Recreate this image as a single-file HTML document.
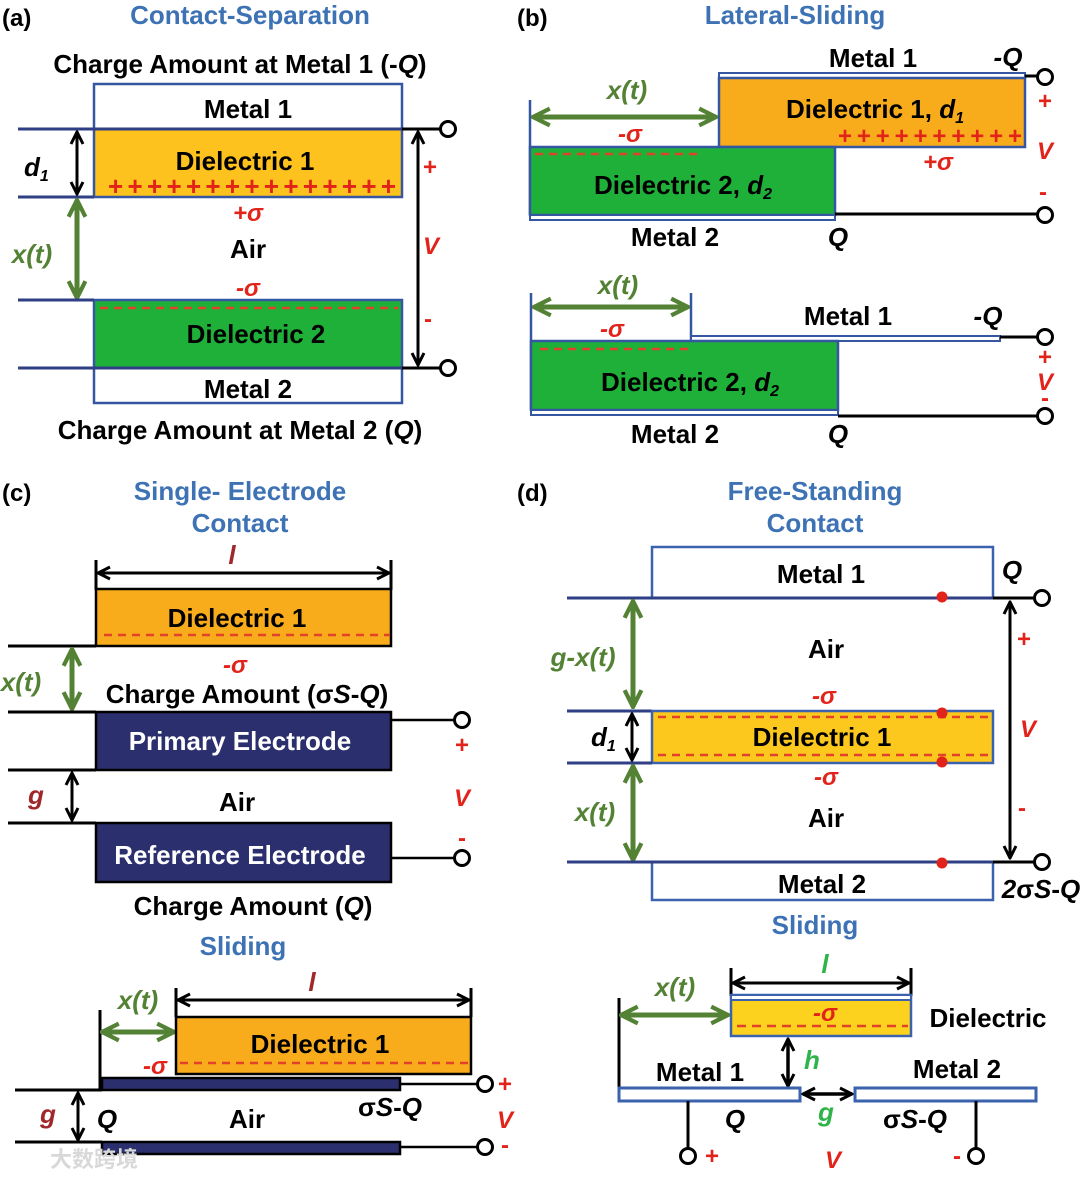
<!DOCTYPE html>
<html><head><meta charset="utf-8"><style>
html,body{margin:0;padding:0;background:#fff;}
svg{display:block;}
text{font-family:"Liberation Sans",Arial,sans-serif;font-weight:bold;}
.t{font-size:26px;fill:#000;text-anchor:middle;}
.h{font-size:26px;fill:#3d72b4;text-anchor:middle;}
.r{fill:#e2231a;text-anchor:middle;font-size:24px;}
.g{fill:#548235;font-style:italic;font-size:26px;text-anchor:middle;}
.i{font-style:italic;}
.w{fill:#fff;}
</style></head><body>
<svg width="1080" height="1177" viewBox="0 0 1080 1177" xmlns="http://www.w3.org/2000/svg">
<defs>
<marker id="ab" viewBox="0 0 10 10" refX="9" refY="5" markerWidth="15" markerHeight="15" markerUnits="userSpaceOnUse" orient="auto-start-reverse"><path d="M1,1 L9,5 L1,9" fill="none" stroke="#000" stroke-width="2"/></marker>
<marker id="ag" viewBox="0 0 10 10" refX="9" refY="5" markerWidth="21" markerHeight="21" markerUnits="userSpaceOnUse" orient="auto-start-reverse"><path d="M1,1 L9,5 L1,9" fill="none" stroke="#548235" stroke-width="2"/></marker>
</defs>

<!-- ===== (a) ===== -->
<text x="2" y="26" font-size="24">(a)</text>
<text class="h" x="250" y="24">Contact-Separation</text>
<text class="t" x="240" y="73">Charge Amount at Metal 1 (-<tspan class="i">Q</tspan>)</text>
<rect x="94" y="84" width="308" height="45" fill="#fff" stroke="#3556a0" stroke-width="2.5"/>
<text class="t" x="248" y="118">Metal 1</text>
<rect x="94" y="129" width="308" height="68" fill="#fdc21e" stroke="#3556a0" stroke-width="2.5"/>
<text class="t" x="245" y="170">Dielectric 1</text>
<text x="108" y="195" font-size="26" fill="#e2231a" font-weight="normal" textLength="288" lengthAdjust="spacing">+++++++++++++++</text>
<line x1="18" y1="129" x2="402" y2="129" stroke="#2e3f85" stroke-width="3"/>
<line x1="402" y1="129" x2="440" y2="129" stroke="#000" stroke-width="3"/>
<circle cx="448" cy="129" r="7.5" fill="#fff" stroke="#000" stroke-width="3"/>
<line x1="18" y1="197" x2="94" y2="197" stroke="#2e3f85" stroke-width="3"/>
<line x1="77" y1="132" x2="77" y2="194" stroke="#000" stroke-width="3" marker-start="url(#ab)" marker-end="url(#ab)"/>
<text x="24" y="176" font-size="26" class="i">d<tspan font-size="16" dy="5">1</tspan></text>
<line x1="77" y1="200" x2="77" y2="298" stroke="#548235" stroke-width="5" marker-start="url(#ag)" marker-end="url(#ag)"/>
<text class="g" x="32" y="263">x(t)</text>
<text class="r i" x="248" y="221">+σ</text>
<text class="t" x="248" y="258">Air</text>
<text class="r i" x="248" y="296">-σ</text>
<rect x="94" y="300" width="308" height="68" fill="#1fb03a" stroke="#3556a0" stroke-width="2.5"/>
<line x1="100" y1="308" x2="398" y2="308" stroke="#e2412a" stroke-width="2.5" stroke-dasharray="8,6"/>
<text class="t" x="256" y="343">Dielectric 2</text>
<line x1="18" y1="300" x2="94" y2="300" stroke="#2e3f85" stroke-width="3"/>
<rect x="94" y="368" width="308" height="35" fill="#fff" stroke="#3556a0" stroke-width="2.5"/>
<line x1="18" y1="368" x2="402" y2="368" stroke="#2e3f85" stroke-width="3"/>
<line x1="402" y1="368" x2="440" y2="368" stroke="#000" stroke-width="3"/>
<circle cx="448" cy="368" r="7.5" fill="#fff" stroke="#000" stroke-width="3"/>
<text class="t" x="248" y="398">Metal 2</text>
<text class="t" x="240" y="439">Charge Amount at Metal 2 (<tspan class="i">Q</tspan>)</text>
<line x1="418" y1="132" x2="418" y2="365" stroke="#000" stroke-width="3" marker-start="url(#ab)" marker-end="url(#ab)"/>
<text class="r" x="430" y="175" font-weight="normal">+</text>
<text class="r i" x="431" y="254" font-size="28">V</text>
<text class="r" x="428" y="327" font-weight="normal">-</text>

<!-- ===== (b) ===== -->
<text x="517" y="26" font-size="24">(b)</text>
<text class="h" x="795" y="24">Lateral-Sliding</text>
<text class="t" x="873" y="67">Metal 1</text>
<text class="t i" x="1008" y="66">-Q</text>
<rect x="719" y="73" width="306" height="5" fill="#fff" stroke="#3556a0" stroke-width="2"/>
<rect x="719" y="78" width="306" height="69" fill="#f8ac1c" stroke="#3556a0" stroke-width="2.5"/>
<text class="t" x="875" y="118">Dielectric 1, <tspan class="i">d</tspan><tspan font-size="16" dy="5" class="i">1</tspan></text>
<text x="838" y="144" font-size="24" fill="#e2231a" font-weight="normal" textLength="184" lengthAdjust="spacing">++++++++++</text>
<line x1="1025" y1="76" x2="1037" y2="76" stroke="#000" stroke-width="3"/>
<circle cx="1045" cy="77" r="7.5" fill="#fff" stroke="#000" stroke-width="3"/>
<text class="r" x="1045" y="109" font-weight="normal">+</text>
<text class="r i" x="1045" y="159" font-size="28">V</text>
<text class="r" x="1043" y="200" font-weight="normal">-</text>
<line x1="530" y1="100" x2="530" y2="215" stroke="#3556a0" stroke-width="2.5"/>
<line x1="533" y1="117" x2="716" y2="117" stroke="#548235" stroke-width="5" marker-start="url(#ag)" marker-end="url(#ag)"/>
<text class="g" x="627" y="99">x(t)</text>
<text class="r i" x="630" y="142">-σ</text>
<rect x="530" y="147" width="305" height="68" fill="#1fb03a" stroke="#3556a0" stroke-width="2.5"/>
<line x1="535" y1="154" x2="700" y2="154" stroke="#e2412a" stroke-width="2.5" stroke-dasharray="8,6"/>
<text class="t" x="683" y="194">Dielectric 2, <tspan class="i">d</tspan><tspan font-size="16" dy="5" class="i">2</tspan></text>
<rect x="530" y="215" width="305" height="5" fill="#fff" stroke="#3556a0" stroke-width="2"/>
<line x1="835" y1="214" x2="1037" y2="214" stroke="#000" stroke-width="3"/>
<circle cx="1045" cy="215" r="7.5" fill="#fff" stroke="#000" stroke-width="3"/>
<text class="t" x="675" y="246">Metal 2</text>
<text class="t i" x="838" y="246">Q</text>
<text class="r i" x="938" y="170">+σ</text>

<text class="g" x="618" y="294">x(t)</text>
<line x1="531" y1="293" x2="531" y2="410" stroke="#3556a0" stroke-width="2.5"/>
<line x1="691" y1="293" x2="691" y2="340" stroke="#3556a0" stroke-width="2.5"/>
<line x1="534" y1="307" x2="688" y2="307" stroke="#548235" stroke-width="5" marker-start="url(#ag)" marker-end="url(#ag)"/>
<text class="r i" x="612" y="337">-σ</text>
<text class="t" x="848" y="325">Metal 1</text>
<text class="t i" x="988" y="325">-Q</text>
<rect x="691" y="336" width="309" height="5" fill="#fff" stroke="#3556a0" stroke-width="2"/>
<line x1="1000" y1="337" x2="1037" y2="337" stroke="#000" stroke-width="3"/>
<circle cx="1045" cy="337" r="7.5" fill="#fff" stroke="#000" stroke-width="3"/>
<rect x="531" y="341" width="307" height="69" fill="#1fb03a" stroke="#3556a0" stroke-width="2.5"/>
<line x1="540" y1="349" x2="690" y2="349" stroke="#e2412a" stroke-width="2.5" stroke-dasharray="8,6"/>
<text class="t" x="690" y="391">Dielectric 2, <tspan class="i">d</tspan><tspan font-size="16" dy="5" class="i">2</tspan></text>
<rect x="531" y="410" width="307" height="5" fill="#fff" stroke="#3556a0" stroke-width="2"/>
<line x1="838" y1="416" x2="1037" y2="416" stroke="#000" stroke-width="3"/>
<circle cx="1045" cy="416" r="7.5" fill="#fff" stroke="#000" stroke-width="3"/>
<text class="r" x="1045" y="365" font-weight="normal">+</text>
<text class="r i" x="1045" y="390" font-size="28">V</text>
<text class="r" x="1045" y="406" font-weight="normal">-</text>
<text class="t" x="675" y="443">Metal 2</text>
<text class="t i" x="838" y="443">Q</text>

<!-- ===== (c) ===== -->
<text x="2" y="501" font-size="24">(c)</text>
<text class="h" x="240" y="500">Single- Electrode</text>
<text class="h" x="240" y="532">Contact</text>
<line x1="96" y1="560" x2="96" y2="590" stroke="#000" stroke-width="3"/>
<line x1="391" y1="560" x2="391" y2="590" stroke="#000" stroke-width="3"/>
<line x1="98" y1="573" x2="389" y2="573" stroke="#000" stroke-width="3" marker-start="url(#ab)" marker-end="url(#ab)"/>
<text x="232" y="564" font-size="26" fill="#a0282a" class="i" text-anchor="middle">l</text>
<rect x="96" y="589" width="295" height="57" fill="#f8ac1c" stroke="#000" stroke-width="2.5"/>
<text class="t" x="237" y="627">Dielectric 1</text>
<line x1="104" y1="635" x2="390" y2="635" stroke="#e2412a" stroke-width="2.5" stroke-dasharray="8,6"/>
<line x1="8" y1="646" x2="96" y2="646" stroke="#000" stroke-width="3"/>
<line x1="72" y1="649" x2="72" y2="709" stroke="#548235" stroke-width="5" marker-start="url(#ag)" marker-end="url(#ag)"/>
<text class="g" x="21" y="691">x(t)</text>
<text class="r i" x="235" y="673">-σ</text>
<text class="t" x="247" y="703">Charge Amount (σ<tspan class="i">S</tspan>-<tspan class="i">Q</tspan>)</text>
<line x1="8" y1="712" x2="96" y2="712" stroke="#000" stroke-width="3"/>
<rect x="96" y="712" width="295" height="58" fill="#2b2f6e" stroke="#000" stroke-width="2.5"/>
<text class="t w" x="240" y="750">Primary Electrode</text>
<line x1="391" y1="720" x2="454" y2="720" stroke="#000" stroke-width="2.5"/>
<circle cx="462" cy="720" r="7.5" fill="#fff" stroke="#000" stroke-width="3"/>
<text class="r" x="462" y="753" font-weight="normal">+</text>
<line x1="8" y1="770" x2="96" y2="770" stroke="#000" stroke-width="3"/>
<line x1="72" y1="773" x2="72" y2="820" stroke="#000" stroke-width="3" marker-start="url(#ab)" marker-end="url(#ab)"/>
<text x="36" y="804" font-size="26" fill="#a0282a" class="i" text-anchor="middle">g</text>
<text class="t" x="237" y="811">Air</text>
<text class="r i" x="462" y="806" font-size="28">V</text>
<line x1="8" y1="823" x2="96" y2="823" stroke="#000" stroke-width="3"/>
<rect x="96" y="823" width="295" height="59" fill="#2b2f6e" stroke="#000" stroke-width="2.5"/>
<text class="t w" x="240" y="864">Reference Electrode</text>
<line x1="391" y1="858" x2="454" y2="858" stroke="#000" stroke-width="2.5"/>
<circle cx="462" cy="858" r="7.5" fill="#fff" stroke="#000" stroke-width="3"/>
<text class="r" x="462" y="846" font-weight="normal">-</text>
<text class="t" x="253" y="915">Charge Amount (<tspan class="i">Q</tspan>)</text>

<text class="h" x="243" y="955">Sliding</text>
<line x1="176" y1="988" x2="176" y2="1017" stroke="#000" stroke-width="3"/>
<line x1="471" y1="988" x2="471" y2="1017" stroke="#000" stroke-width="3"/>
<line x1="178" y1="1000" x2="469" y2="1000" stroke="#000" stroke-width="3" marker-start="url(#ab)" marker-end="url(#ab)"/>
<text x="312" y="991" font-size="26" fill="#a0282a" class="i" text-anchor="middle">l</text>
<text class="g" x="138" y="1009">x(t)</text>
<line x1="100" y1="1010" x2="100" y2="1090" stroke="#000" stroke-width="3"/>
<line x1="102" y1="1032" x2="174" y2="1032" stroke="#548235" stroke-width="5" marker-start="url(#ag)" marker-end="url(#ag)"/>
<rect x="176" y="1017" width="295" height="57" fill="#f8ac1c" stroke="#000" stroke-width="2.5"/>
<text class="t" x="320" y="1053">Dielectric 1</text>
<line x1="180" y1="1063" x2="468" y2="1063" stroke="#e2412a" stroke-width="2.5" stroke-dasharray="8,6"/>
<text class="r i" x="155" y="1074">-σ</text>
<rect x="102" y="1078" width="298" height="12" fill="#2b2f6e" stroke="#000" stroke-width="2.5"/>
<line x1="15" y1="1090" x2="102" y2="1090" stroke="#000" stroke-width="3"/>
<line x1="400" y1="1084" x2="477" y2="1084" stroke="#000" stroke-width="2.5"/>
<circle cx="485" cy="1084" r="7.5" fill="#fff" stroke="#000" stroke-width="3"/>
<text class="r" x="505" y="1092" font-weight="normal">+</text>
<line x1="78" y1="1093" x2="78" y2="1140" stroke="#000" stroke-width="3" marker-start="url(#ab)" marker-end="url(#ab)"/>
<text x="48" y="1123" font-size="26" fill="#a0282a" class="i" text-anchor="middle">g</text>
<text class="t i" x="107" y="1128">Q</text>
<text class="t" x="247" y="1128">Air</text>
<text class="t" x="390" y="1116">σ<tspan class="i">S</tspan>-<tspan class="i">Q</tspan></text>
<text class="r i" x="505" y="1128" font-size="28">V</text>
<line x1="15" y1="1142" x2="102" y2="1142" stroke="#000" stroke-width="3"/>
<rect x="102" y="1142" width="298" height="12" fill="#2b2f6e" stroke="#000" stroke-width="2.5"/>
<line x1="400" y1="1147" x2="477" y2="1147" stroke="#000" stroke-width="2.5"/>
<circle cx="485" cy="1147" r="7.5" fill="#fff" stroke="#000" stroke-width="3"/>
<text class="r" x="505" y="1153" font-weight="normal">-</text>
<text x="50" y="1167" font-size="22" fill="#d8d8d8" style='font-family:"Liberation Sans","Noto Sans CJK SC",sans-serif'>大数跨境</text>

<!-- ===== (d) ===== -->
<text x="517" y="501" font-size="24">(d)</text>
<text class="h" x="815" y="500">Free-Standing</text>
<text class="h" x="815" y="532">Contact</text>
<rect x="652" y="547" width="341" height="51" fill="#fff" stroke="#3a62ad" stroke-width="2.5"/>
<text class="t" x="821" y="583">Metal 1</text>
<text class="t i" x="1012" y="579">Q</text>
<line x1="567" y1="598" x2="993" y2="598" stroke="#2e3f85" stroke-width="3"/>
<circle cx="942" cy="597" r="5.5" fill="#e2231a"/>
<line x1="993" y1="598" x2="1034" y2="598" stroke="#000" stroke-width="3"/>
<circle cx="1042" cy="598" r="7.5" fill="#fff" stroke="#000" stroke-width="3"/>
<line x1="633" y1="601" x2="633" y2="707" stroke="#548235" stroke-width="5" marker-start="url(#ag)" marker-end="url(#ag)"/>
<text class="g" x="583" y="666">g-x(t)</text>
<text class="t" x="826" y="658">Air</text>
<text class="r i" x="824" y="704">-σ</text>
<line x1="567" y1="711" x2="652" y2="711" stroke="#2e3f85" stroke-width="3"/>
<rect x="652" y="711" width="341" height="52" fill="#fdc81e" stroke="#3a62ad" stroke-width="2.5"/>
<line x1="658" y1="717" x2="988" y2="717" stroke="#e2412a" stroke-width="2.5" stroke-dasharray="8,6"/>
<line x1="658" y1="755" x2="988" y2="755" stroke="#e2412a" stroke-width="2.5" stroke-dasharray="8,6"/>
<circle cx="942" cy="713" r="5.5" fill="#e2231a"/>
<circle cx="942" cy="762" r="5.5" fill="#e2231a"/>
<text class="t" x="822" y="746">Dielectric 1</text>
<line x1="632" y1="714" x2="632" y2="760" stroke="#000" stroke-width="3" marker-start="url(#ab)" marker-end="url(#ab)"/>
<text x="591" y="746" font-size="26" class="i">d<tspan font-size="16" dy="5">1</tspan></text>
<line x1="567" y1="763" x2="652" y2="763" stroke="#2e3f85" stroke-width="3"/>
<text class="r i" x="826" y="785">-σ</text>
<line x1="633" y1="766" x2="633" y2="860" stroke="#548235" stroke-width="5" marker-start="url(#ag)" marker-end="url(#ag)"/>
<text class="g" x="595" y="821">x(t)</text>
<text class="t" x="826" y="827">Air</text>
<rect x="652" y="862" width="341" height="38" fill="#fff" stroke="#3a62ad" stroke-width="2.5"/>
<line x1="567" y1="862" x2="993" y2="862" stroke="#2e3f85" stroke-width="3"/>
<circle cx="942" cy="863" r="5.5" fill="#e2231a"/>
<line x1="993" y1="862" x2="1034" y2="862" stroke="#000" stroke-width="3"/>
<circle cx="1042" cy="862" r="7.5" fill="#fff" stroke="#000" stroke-width="3"/>
<text class="t" x="822" y="893">Metal 2</text>
<text class="t" x="1041" y="898"><tspan class="i">2</tspan>σ<tspan class="i">S</tspan>-<tspan class="i">Q</tspan></text>
<line x1="1010" y1="602" x2="1010" y2="858" stroke="#000" stroke-width="3" marker-start="url(#ab)" marker-end="url(#ab)"/>
<text class="r" x="1024" y="647" font-weight="normal">+</text>
<text class="r i" x="1028" y="737" font-size="28">V</text>
<text class="r" x="1022" y="816" font-weight="normal">-</text>

<text class="h" x="815" y="934">Sliding</text>
<line x1="731" y1="968" x2="731" y2="996" stroke="#000" stroke-width="3"/>
<line x1="911" y1="968" x2="911" y2="996" stroke="#000" stroke-width="3"/>
<line x1="733" y1="983" x2="909" y2="983" stroke="#000" stroke-width="3" marker-start="url(#ab)" marker-end="url(#ab)"/>
<text x="825" y="973" font-size="26" fill="#2fb44a" class="i" text-anchor="middle">l</text>
<text class="g" x="675" y="996">x(t)</text>
<line x1="619" y1="998" x2="619" y2="1090" stroke="#000" stroke-width="3"/>
<line x1="621" y1="1015" x2="728" y2="1015" stroke="#548235" stroke-width="5" marker-start="url(#ag)" marker-end="url(#ag)"/>
<rect x="731" y="995" width="180" height="41" fill="#fdd21e" stroke="#3a62ad" stroke-width="2.5"/>
<rect x="732" y="996" width="178" height="4" fill="#fff"/>
<line x1="731" y1="1000" x2="911" y2="1000" stroke="#3a62ad" stroke-width="2"/>
<text class="r i" x="825" y="1021">-σ</text>
<line x1="737" y1="1026" x2="908" y2="1026" stroke="#e2412a" stroke-width="2.5" stroke-dasharray="9,6"/>
<text class="t" x="988" y="1027">Dielectric</text>
<line x1="788" y1="1039" x2="788" y2="1086" stroke="#000" stroke-width="3.5" marker-start="url(#ab)" marker-end="url(#ab)"/>
<text x="812" y="1069" font-size="26" fill="#2fb44a" class="i" text-anchor="middle">h</text>
<text class="t" x="700" y="1081">Metal 1</text>
<text class="t" x="957" y="1078">Metal 2</text>
<rect x="619" y="1088" width="181" height="13" fill="#fff" stroke="#3a62ad" stroke-width="3"/>
<rect x="855" y="1088" width="181" height="13" fill="#fff" stroke="#3a62ad" stroke-width="3"/>
<line x1="803" y1="1094" x2="852" y2="1094" stroke="#000" stroke-width="3.5" marker-start="url(#ab)" marker-end="url(#ab)"/>
<text x="826" y="1121" font-size="26" fill="#2fb44a" class="i" text-anchor="middle">g</text>
<text class="t i" x="735" y="1128">Q</text>
<text class="t" x="915" y="1128">σ<tspan class="i">S</tspan>-<tspan class="i">Q</tspan></text>
<line x1="688" y1="1101" x2="688" y2="1148" stroke="#000" stroke-width="3"/>
<circle cx="688" cy="1156" r="7.5" fill="#fff" stroke="#000" stroke-width="3"/>
<text class="r" x="712" y="1164" font-weight="normal">+</text>
<line x1="976" y1="1101" x2="976" y2="1148" stroke="#000" stroke-width="3"/>
<circle cx="976" cy="1156" r="7.5" fill="#fff" stroke="#000" stroke-width="3"/>
<text class="r" x="957" y="1164" font-weight="normal">-</text>
<text class="r i" x="833" y="1168" font-size="28">V</text>
</svg>
</body></html>
